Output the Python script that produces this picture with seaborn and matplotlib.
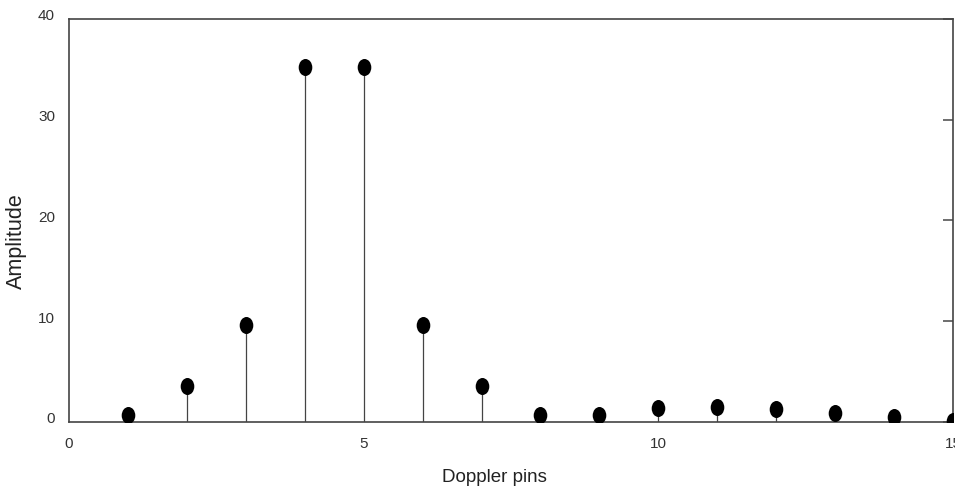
import numpy as np
import pandas as pd
import matplotlib
matplotlib.use('Agg')
import matplotlib.pyplot as plt
import matplotlib.transforms as mtransforms
from matplotlib.path import Path
import seaborn as sns

# doppler bin index and amplitude
pins = [1, 2, 3, 4, 5, 6, 7, 8, 9, 10, 11, 12, 13, 14, 15]
amplitude = [0.7, 3.6, 9.6, 35.2, 35.2, 9.6, 3.6, 0.7, 0.7, 1.4, 1.5, 1.3, 0.9, 0.5, 0.1]
x_ticks = [0, 5, 10, 15]
y_ticks = [0, 10, 20, 30, 40]

df = pd.DataFrame({'pin': pins, 'amp': amplitude})

sns.set_style('white')
plt.rcParams['font.family'] = ['Liberation Sans', 'DejaVu Sans']

fig = plt.figure(figsize=(9.55, 4.98), dpi=100)
ax = fig.add_axes([69 / 955, 1 - 422 / 498, 884 / 955, 403 / 498])

# stems
ax.vlines(df['pin'], 0, df['amp'], color='#444444', linewidth=0.9, zorder=2)

# slightly tall ellipse marker
ellipse = Path.unit_circle().transformed(mtransforms.Affine2D().scale(0.8, 1.0))
sns.scatterplot(data=df, x='pin', y='amp', ax=ax, marker=ellipse, s=150,
                color='black', edgecolor='black', linewidth=0, zorder=3, legend=False)

ax.set_xlim(0, 15)
ax.set_ylim(0, 40)
ax.set_xticks(x_ticks)
ax.set_yticks(y_ticks)
ax.tick_params(axis='both', direction='in', length=7, width=1.2, color='#555555',
               labelsize=11, labelcolor='#333333', top=False, right=True)
ax.tick_params(axis='x', pad=11)
ax.tick_params(axis='y', pad=10)

for lab in ax.get_yticklabels():
    lab.set_transform(lab.get_transform() + mtransforms.ScaledTranslation(0, 3 / 72, fig.dpi_scale_trans))

for side in ['left', 'right', 'top', 'bottom']:
    ax.spines[side].set_visible(True)
    ax.spines[side].set_color('#444444')
    ax.spines[side].set_linewidth(1.2)

ax.set_xlabel('Doppler pins', fontsize=13.5, color='#222222')
ax.set_ylabel('Amplitude', fontsize=15.5, color='#222222')
ax.xaxis.set_label_coords(0.481, -0.117)
ax.yaxis.set_label_coords(-0.047, 0.45)

fig.savefig('out.png', dpi=100)
